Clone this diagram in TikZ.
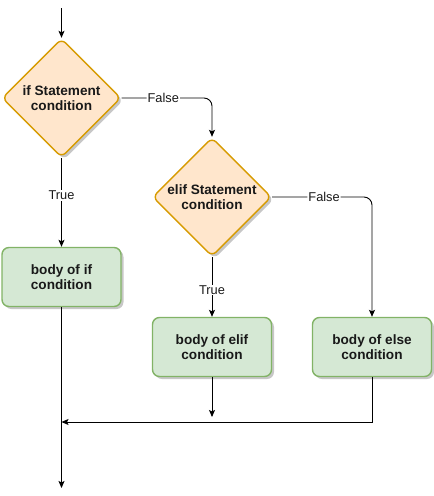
\documentclass[tikz,border=0pt]{standalone}
\usepackage{fontspec}
\setmainfont{Liberation Sans}
\usetikzlibrary{shapes.geometric,arrows.meta,shadows}
\definecolor{decfill}{HTML}{FFE6CC}
\definecolor{decdraw}{HTML}{D79B00}
\definecolor{boxfill}{HTML}{D5E8D4}
\definecolor{boxdraw}{HTML}{82B366}
\tikzset{
  shade/.style={drop shadow={shadow xshift=2.5pt,shadow yshift=-2.5pt,opacity=0.22,fill=black}},
  decision/.style={diamond,aspect=1,draw=decdraw,fill=decfill,line width=1.4pt,
    rounded corners=6pt,minimum width=119pt,minimum height=119pt,inner sep=0pt,
    align=center,font=\fontsize{13.6}{15}\selectfont\bfseries,text=black!90,shade},
  bodybox/.style={rectangle,draw=boxdraw,fill=boxfill,line width=1.4pt,
    rounded corners=7pt,minimum width=119pt,minimum height=59pt,inner sep=0pt,
    align=center,font=\fontsize{13.6}{15}\selectfont\bfseries,text=black!90,shade},
  conn/.style={draw=black,line width=0.9pt,-{Stealth[length=7pt,width=6pt,inset=1.5pt]}},
  lbl/.style={fill=white,inner sep=1pt,font=\fontsize{12.8}{14}\selectfont,text=black!90}
}
\begin{document}
\begin{tikzpicture}[x=1pt,y=-1pt]
\useasboundingbox (0,0) rectangle (434,496);
\coordinate (start) at (61.5,8);
\node[decision] (d1) at (61.5,98) {if Statement\\condition};
\node[decision] (d2) at (212,197) {elif Statement\\condition};
\node[bodybox] (b1) at (61.5,277) {body of if\\condition};
\node[bodybox] (b2) at (212,347) {body of elif\\condition};
\node[bodybox] (b3) at (372,347) {body of else\\condition};
\coordinate (e2) at (212,417);
\coordinate (merge) at (61.5,422);
\coordinate (finish) at (61.5,488);

\draw[conn] (start) -- (d1.north);
\draw[conn,rounded corners=8pt] (d1.east) -| (d2.north) node[lbl,pos=0.23]{False};
\draw[conn] (d1.south) -- (b1.north) node[lbl,pos=0.42]{True};
\draw[conn] (d2.south) -- (b2.north) node[lbl,pos=0.55]{True};
\draw[conn,rounded corners=8pt] (d2.east) -| (b3.north) node[lbl,pos=0.26]{False};
\draw[conn] (b2.south) -- (e2);
\draw[conn] (b3.south) |- (merge);
\draw[conn] (b1.south) -- (finish);
\end{tikzpicture}
\end{document}
